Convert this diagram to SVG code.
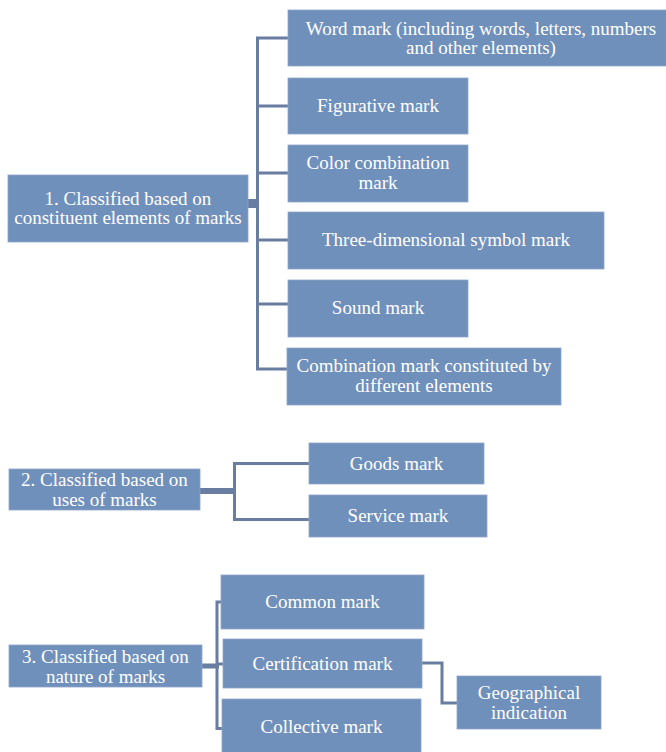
<svg xmlns="http://www.w3.org/2000/svg" width="666" height="752" viewBox="0 0 666 752">
<style>
.box{fill:#7090bc;stroke:#8ea6c9;stroke-width:0.8}
.t{font-family:"Liberation Serif","Times New Roman",serif;font-size:19px;fill:#ffffff;text-anchor:middle}
.c{fill:none;stroke:#687d9f;stroke-width:3}
.s{fill:none;stroke:#687d9f}
</style>
<rect width="666" height="752" fill="#ffffff"/>
<g id="connectors">
<path class="c" d="M288,38 H257.5 V369 H288 M257.5,106 H288 M257.5,173 H288 M257.5,240 H288 M257.5,304 H288"/>
<path class="s" stroke-width="9" d="M248,203.5 H258"/>
<path class="c" d="M309,463.5 H234.5 V519.5 H309"/>
<path class="s" stroke-width="6" d="M200,491 H235"/>
<path class="c" d="M222,602 H217 V728.5 H222 M217,664 H223"/>
<path class="s" stroke-width="5" d="M202,666 H219"/>
<path class="c" d="M422,663 H442 V703 H457"/>
</g>
<g id="root1"><rect class="box" x="8" y="175" width="240" height="67"/><text class="t" x="128" y="205">1. Classified based on</text><text class="t" x="128" y="224">constituent elements of marks</text></g>
<g id="word"><rect class="box" x="288" y="10" width="387" height="56"/><text class="t" x="481" y="35">Word mark (including words, letters, numbers</text><text class="t" x="481" y="54">and other elements)</text></g>
<g id="figurative"><rect class="box" x="288" y="78" width="180" height="56"/><text class="t" x="378" y="112">Figurative mark</text></g>
<g id="color"><rect class="box" x="288" y="145" width="180" height="57"/><text class="t" x="378" y="169">Color combination</text><text class="t" x="378" y="189">mark</text></g>
<g id="threed"><rect class="box" x="288" y="212" width="316" height="57"/><text class="t" x="446" y="246">Three-dimensional symbol mark</text></g>
<g id="sound"><rect class="box" x="288" y="280" width="180" height="57"/><text class="t" x="378" y="314">Sound mark</text></g>
<g id="combination"><rect class="box" x="287" y="348" width="274" height="57"/><text class="t" x="424" y="372">Combination mark constituted by</text><text class="t" x="424" y="392">different elements</text></g>
<g id="root2"><rect class="box" x="9" y="469" width="191" height="41"/><text class="t" x="104.5" y="486">2. Classified based on</text><text class="t" x="104.5" y="506">uses of marks</text></g>
<g id="goods"><rect class="box" x="309" y="443" width="175" height="41"/><text class="t" x="396.5" y="469.5">Goods mark</text></g>
<g id="service"><rect class="box" x="309" y="495" width="178" height="42"/><text class="t" x="398" y="522">Service mark</text></g>
<g id="root3"><rect class="box" x="9" y="645" width="193" height="42"/><text class="t" x="105.5" y="663">3. Classified based on</text><text class="t" x="105.5" y="683">nature of marks</text></g>
<g id="common"><rect class="box" x="221" y="575" width="203" height="54"/><text class="t" x="322.5" y="608">Common mark</text></g>
<g id="certification"><rect class="box" x="223" y="639" width="199" height="49"/><text class="t" x="322.5" y="670">Certification mark</text></g>
<g id="collective"><rect class="box" x="222" y="699" width="199" height="56"/><text class="t" x="321.5" y="733">Collective mark</text></g>
<g id="geo"><rect class="box" x="457" y="676" width="144" height="53"/><text class="t" x="529" y="699">Geographical</text><text class="t" x="529" y="719">indication</text></g>
</svg>
